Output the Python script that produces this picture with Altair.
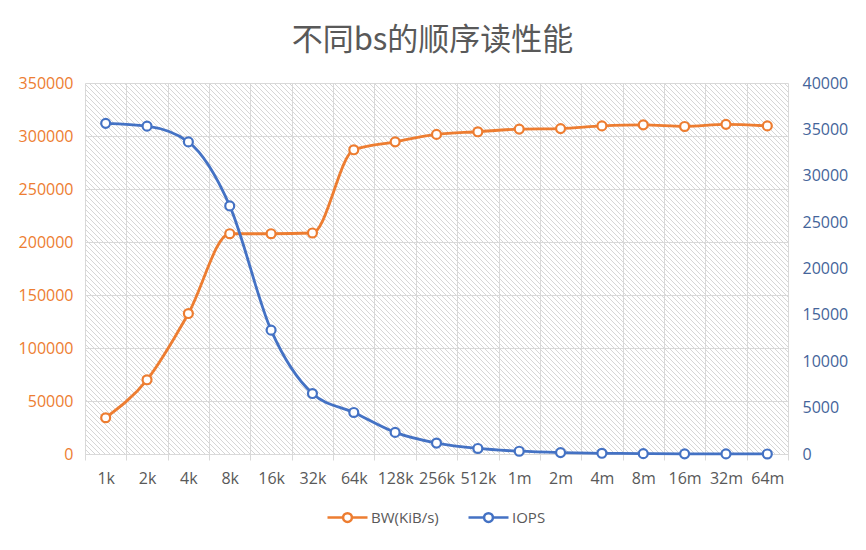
import altair as alt
import pandas as pd

categories = ["1k", "2k", "4k", "8k", "16k", "32k", "64k", "128k", "256k", "512k",
              "1m", "2m", "4m", "8m", "16m", "32m", "64m"]
bw_values = [34200, 70000, 132500, 207800, 207800, 208500, 287000, 294500, 301500,
             304000, 306500, 307000, 309500, 310500, 309000, 311000, 309500]
iops_values = [35650, 35350, 33650, 26750, 13350, 6520, 4480, 2330, 1180,
               595, 300, 150, 76, 38, 19, 9, 5]
series_names = ["BW(KiB/s)", "IOPS"]
series_colors = ["#ED7D31", "#4472C4"]

W, H = 703, 371

df = pd.DataFrame({
    "cat": categories * 2,
    "series": [series_names[0]] * len(categories) + [series_names[1]] * len(categories),
    "value": bw_values + iops_values,
})

# decorative diagonal hatch of the plot area (style only)
step = 5
hatch = pd.DataFrame([
    {"x": x0, "x2": x0 + H, "y": 0, "y2": H}
    for x0 in range(-H, W + step, step)
])

FONT = "Open Sans"
GRAY = "#595959"

x_scale = alt.Scale(type="band", paddingInner=0, paddingOuter=0)

x_enc = alt.X(
    "cat:N", sort=categories, bandPosition=0.5, scale=x_scale,
    axis=alt.Axis(title=None, tickBand="extent", grid=True, gridColor="#D9D9D9",
                  domainColor="#D9D9D9", tickColor="#D9D9D9", tickSize=6,
                  labelAngle=0, labelColor=GRAY, labelFontSize=16, labelFont=FONT,
                  labelPadding=10),
)
x_enc2 = alt.X("cat:N", sort=categories, bandPosition=0.5, scale=x_scale, axis=None)

color_enc = alt.Color(
    "series:N",
    scale=alt.Scale(domain=series_names, range=series_colors),
    legend=alt.Legend(
        title=None, orient="none", direction="horizontal",
        legendX=241, legendY=413,
        symbolType="M-1,0L-0.22,0M0.22,0L1,0M-0.22,0A0.22,0.22 0 1,0 0.22,0A0.22,0.22 0 1,0 -0.22,0",
        symbolSize=1600, symbolStrokeWidth=2.5, symbolFillColor="white",
        labelFont=FONT, labelFontSize=15, labelColor=GRAY, columnPadding=24,
        labelOffset=2,
    ),
)

hatch_layer = alt.Chart(hatch).mark_rule(clip=True, color="#D6D6D6", strokeWidth=1).encode(
    x=alt.X("x:Q", scale=None, axis=None),
    x2="x2:Q",
    y=alt.Y("y:Q", scale=None, axis=None),
    y2="y2:Q",
)

line_kw = dict(strokeWidth=2.8, interpolate="monotone",
               point=alt.OverlayMarkDef(filled=False, fill="white", size=80, strokeWidth=2.2))

bw_layer = alt.Chart(df).transform_filter(alt.datum.series == series_names[0]).mark_line(**line_kw).encode(
    x=x_enc,
    y=alt.Y("value:Q", scale=alt.Scale(domain=[0, 350000]),
            axis=alt.Axis(title=None, orient="left", values=list(range(0, 350001, 50000)),
                          format="d", grid=True, gridColor="#D9D9D9", domain=False, ticks=False,
                          labelColor="#ED7D31", labelFontSize=16, labelFont=FONT,
                          labelPadding=12)),
    color=color_enc,
)

iops_layer = alt.Chart(df).transform_filter(alt.datum.series == series_names[1]).mark_line(**line_kw).encode(
    x=x_enc2,
    y=alt.Y("value:Q", scale=alt.Scale(domain=[0, 40000]),
            axis=alt.Axis(title=None, orient="right", values=list(range(0, 40001, 5000)),
                          format="d", grid=False, domain=False, ticks=False,
                          labelColor="#44649A", labelFontSize=16, labelFont=FONT,
                          labelPadding=14)),
    color=color_enc,
)

chart = alt.layer(hatch_layer, bw_layer, iops_layer).resolve_scale(
    y="independent", x="independent"
).properties(
    width=W, height=H,
    padding={"left": 10, "top": 17, "right": 5, "bottom": 5},
    title=alt.TitleParams("不同bs的顺序读性能", font="Noto Sans CJK SC", fontSize=31,
                          fontWeight="normal", color=GRAY, anchor="middle", offset=18, dx=-4),
).configure_view(stroke=None)

chart.save("out.html", embed_options={"renderer": "svg", "actions": False})
